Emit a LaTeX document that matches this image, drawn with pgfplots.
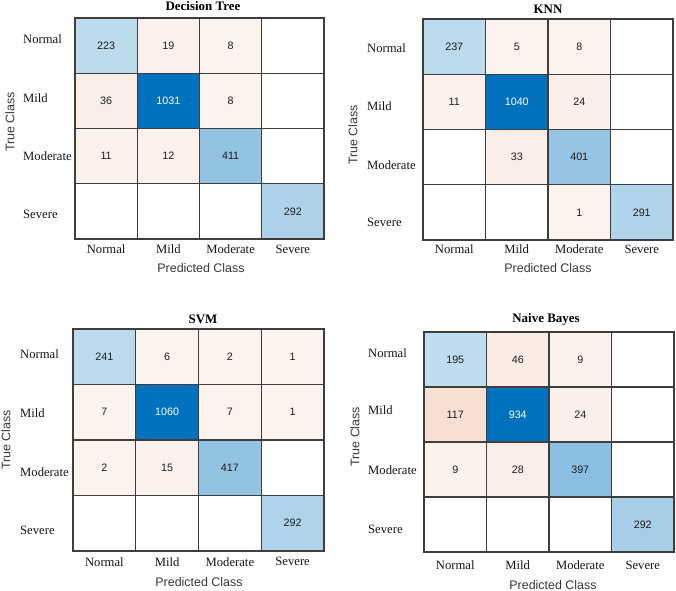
\documentclass[border=0pt]{standalone}
\usepackage{fontspec}
\setmainfont{Liberation Serif}
\newfontfamily\arialf{Liberation Sans}
\usepackage{pgfplots}
\usepackage{pgfplotstable}
\pgfplotsset{compat=1.18}

\definecolor{cellline}{RGB}{62,62,62}
\definecolor{celltext}{RGB}{30,30,30}
\definecolor{labeltext}{RGB}{55,55,55}

% confusion matrices: x = predicted, y = true, v = count,
% m = count signed for colouring (+ diagonal, - off diagonal)
\pgfplotstableread{
x y v m
0 0 223 223
1 0 19 -19
2 0 8 -8
3 0 0 0
0 1 36 -36
1 1 1031 1031
2 1 8 -8
3 1 0 0
0 2 11 -11
1 2 12 -12
2 2 411 411
3 2 0 0
0 3 0 0
1 3 0 0
2 3 0 0
3 3 292 292
}\dtdata

\pgfplotstableread{
x y v m
0 0 237 237
1 0 5 -5
2 0 8 -8
3 0 0 0
0 1 11 -11
1 1 1040 1040
2 1 24 -24
3 1 0 0
0 2 0 0
1 2 33 -33
2 2 401 401
3 2 0 0
0 3 0 0
1 3 0 0
2 3 1 -1
3 3 291 291
}\knndata

\pgfplotstableread{
x y v m
0 0 241 241
1 0 6 -6
2 0 2 -2
3 0 1 -1
0 1 7 -7
1 1 1060 1060
2 1 7 -7
3 1 1 -1
0 2 2 -2
1 2 15 -15
2 2 417 417
3 2 0 0
0 3 0 0
1 3 0 0
2 3 0 0
3 3 292 292
}\svmdata

\pgfplotstableread{
x y v m
0 0 195 195
1 0 46 -46
2 0 9 -9
3 0 0 0
0 1 117 -117
1 1 934 934
2 1 24 -24
3 1 0 0
0 2 9 -9
1 2 28 -28
2 2 397 397
3 2 0 0
0 3 0 0
1 3 0 0
2 3 0 0
3 3 292 292
}\nbdata

\newcommand\cellcontent{\ifnum\pgfplotspointmeta=0 \else\ifnum\pgfplotspointmeta>700 \color{white}\fi\pgfplotspointmeta\fi}

\pgfplotsset{
  cmat/.style={
    scale only axis,
    enlargelimits=false,
    xmin=-0.5, xmax=3.5, ymin=-0.5, ymax=3.5,
    y dir=reverse,
    axis on top,
    xtick={0,1,2,3},
    xticklabels={Normal,Mild,Moderate,Severe},
    yticklabels={Normal,Mild,Moderate,Severe},
    major tick length=0pt, minor tick length=0pt,
    minor xtick={0.5,1.5,2.5}, minor ytick={0.5,1.5,2.5},
    xminorgrids, yminorgrids,
    minor grid style={cellline, line width=1.1bp},
    axis line style={cellline, line width=1.1bp},
    tick label style={font=\fontsize{12.7}{14}\selectfont, text=black!92},
    yticklabel style={anchor=west, inner sep=0pt},
    xticklabel style={anchor=center, inner sep=0pt},
    xlabel={Predicted Class}, ylabel={True Class},
    label style={font=\arialf\fontsize{12.5}{14}\selectfont, text=labeltext, anchor=center},
    title style={font=\bfseries\fontsize{13}{15}\selectfont, anchor=center},
  },
  cmcells/.style={matrix plot*, mesh/cols=4, point meta=explicit},
  cmcounts/.style={draw=none, mark=none,
    point meta=explicit symbolic,
    nodes near coords={\cellcontent},
    nodes near coords style={anchor=center, inner sep=0pt,
      font=\arialf\fontsize{10.8}{12}\selectfont, text=celltext}},
}

\begin{document}
\begin{tikzpicture}
\useasboundingbox (0,0) rectangle (676bp,591bp);

% Decision Tree
\begin{axis}[cmat, at={(75bp,573bp)}, anchor=north west,
  width=249bp, height=221bp,
  colormap={cmdt}{rgb255(0pt)=(217,83,25); rgb255(1030pt)=(252,243,239);
    rgb255(1031pt)=(255,255,255); rgb255(1032pt)=(242,248,252);
    rgb255(2062pt)=(0,114,189)},
  point meta min=-1031, point meta max=1031,
  ytick={-0.12,0.95,2.0,3.05},
  yticklabel style={xshift=-52bp},
  xticklabel style={yshift=-10bp},
  title={Decision Tree},
  title style={at={(axis description cs:0.514,1.027)}},
  xlabel style={at={(axis description cs:0.506,-0.131)}},
  ylabel style={at={(axis description cs:-0.261,0.529)}},
]
\addplot[cmcells] table[meta=m] {\dtdata};
\addplot[cmcounts] table[meta=v] {\dtdata};
\end{axis}

% KNN
\begin{axis}[cmat, at={(423bp,572bp)}, anchor=north west,
  width=250bp, height=221bp,
  colormap={cmknn}{rgb255(0pt)=(217,83,25); rgb255(1039pt)=(252,243,239);
    rgb255(1040pt)=(255,255,255); rgb255(1041pt)=(242,248,252);
    rgb255(2080pt)=(0,114,189)},
  point meta min=-1040, point meta max=1040,
  ytick={0.02,1.07,2.14,3.19},
  yticklabel style={xshift=-56bp},
  xticklabel style={yshift=-9bp},
  title={KNN},
  title style={at={(axis description cs:0.5,1.018)}},
  xlabel style={at={(axis description cs:0.5,-0.127)}},
  ylabel style={at={(axis description cs:-0.28,0.475)}},
]
\addplot[cmcells] table[meta=m] {\knndata};
\addplot[cmcounts] table[meta=v] {\knndata};
\end{axis}

% SVM
\begin{axis}[cmat, at={(73bp,262bp)}, anchor=north west,
  width=251bp, height=222bp,
  colormap={cmsvm}{rgb255(0pt)=(217,83,25); rgb255(1059pt)=(252,243,239);
    rgb255(1060pt)=(255,255,255); rgb255(1061pt)=(242,248,252);
    rgb255(2120pt)=(0,114,189)},
  point meta min=-1060, point meta max=1060,
  ytick={-0.04,1.02,2.08,3.12},
  yticklabel style={xshift=-53bp},
  xticklabel style={yshift=-10.7bp},
  title={SVM},
  title style={at={(axis description cs:0.518,1.018)}},
  xlabel style={at={(axis description cs:0.502,-0.138)}},
  ylabel style={at={(axis description cs:-0.267,0.5)}},
]
\addplot[cmcells] table[meta=m] {\svmdata};
\addplot[cmcounts] table[meta=v] {\svmdata};
\end{axis}

% Naive Bayes
\begin{axis}[cmat, at={(424bp,259bp)}, anchor=north west,
  width=250bp, height=220bp,
  colormap={cmnb}{rgb255(0pt)=(217,83,25); rgb255(933pt)=(252,243,239);
    rgb255(934pt)=(255,255,255); rgb255(935pt)=(242,248,252);
    rgb255(1868pt)=(0,114,189)},
  point meta min=-934, point meta max=934,
  ytick={-0.11,0.93,2.02,3.08},
  yticklabel style={xshift=-56bp},
  xticklabel style={yshift=-13bp},
  title={Naive Bayes},
  title style={at={(axis description cs:0.488,1.032)}},
  xlabel style={at={(axis description cs:0.516,-0.15)}},
  ylabel style={at={(axis description cs:-0.276,0.524)}},
]
\addplot[cmcells] table[meta=m] {\nbdata};
\addplot[cmcounts] table[meta=v] {\nbdata};
\end{axis}
\end{tikzpicture}
\end{document}
